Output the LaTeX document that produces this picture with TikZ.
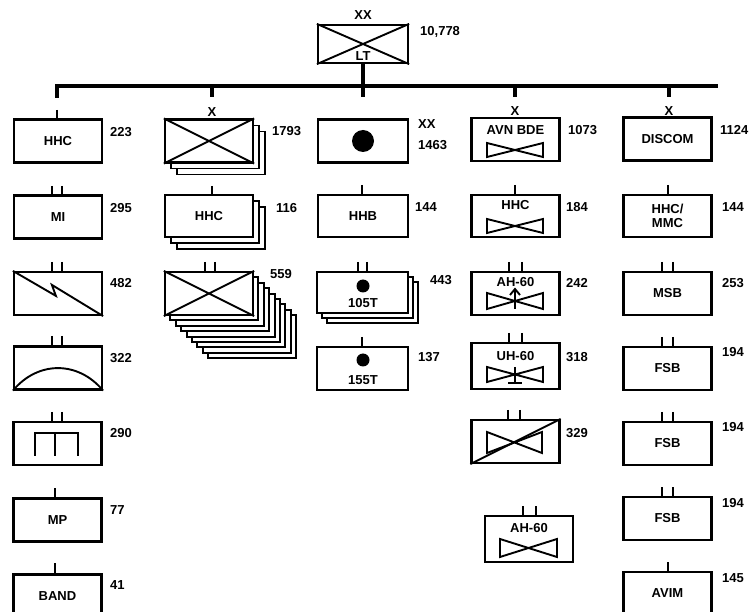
\documentclass[tikz,border=0pt]{standalone}
\usepackage{fontspec}
\newfontfamily\unitfont{Liberation Sans}
\usetikzlibrary{positioning}

\begin{document}
\begin{tikzpicture}[x=1pt,y=-1pt,
  unit/.style={draw,line width=2.2pt,fill=white,minimum width=88pt,minimum height=43pt,inner sep=0pt,font=\unitfont\bfseries\fontsize{13}{14}\selectfont},
  lbl/.style={inner sep=0pt,font=\unitfont\bfseries\fontsize{13}{14}\selectfont},
  strength/.style={lbl,anchor=west},
  sym/.style={line width=1.9pt},
  stack/.style={draw,line width=1.9pt,fill=white},
  tick/.style={line width=2.6pt},
  bar/.style={line width=3.2pt}]
\useasboundingbox (0,0) rectangle (753,612);
% Division
\node[unit,minimum width=90pt,minimum height=38pt] (div) at (363,44) {};
\draw[sym] (div.north west) -- (div.south east) (div.north east) -- (div.south west);
\node[lbl] (divlt) at (363,56) {LT};
\node[lbl] (divxx) at (363,15) {XX};
\node[strength] (divn) at (420,32) {10,778};
% Bar
\coordinate (b1) at (57,86);
\coordinate (b2) at (212,86);
\coordinate (b3) at (363,86);
\coordinate (b4) at (515,86);
\coordinate (b5) at (669,86);
\coordinate (bend) at (718,86);
\draw[bar] (div.south) -- (b3);
\draw[bar] ([yshift=-12pt]b1) -- (b1) -- (bend);
\foreach \b in {b2,b3,b4,b5} \draw[bar] (\b) -- ++(0,11);

% Column 1: separate companies and battalions
\node[unit] (hhc) at (58,141) {HHC};
\node[strength] (hhcn) at (110,132) {223};
\draw[tick] (57,110) -- (57,120);
\node[unit] (mi) at (58,217) {MI};
\node[strength] (min) at (110,208) {295};
\draw[tick] (52,186) -- (52,196) (62,186) -- (62,196);
\node[unit] (sig) at (58,293.5) {};
\draw[sym] (sig.north west) -- ([shift={(43,25)}]sig.north west) -- ([shift={(39,14)}]sig.north west) -- (sig.south east);
\node[strength] (sign) at (110,283) {482};
\draw[tick] (52,262) -- (52,272) (62,262) -- (62,272);
\node[unit] (ada) at (58,368) {};
\draw[sym] (ada.south west) .. controls ([shift={(25,-30)}]ada.south west) and ([shift={(-25,-30)}]ada.south east) .. (ada.south east);
\node[strength] (adan) at (110,358) {322};
\draw[tick] (52,336) -- (52,346) (62,336) -- (62,346);
\node[unit] (engr) at (57.5,443.5) {};
\draw[sym] (35,456) -- (35,433) -- (78,433) -- (78,456) (55,433) -- (55,456);
\node[strength] (engrn) at (110,433) {290};
\draw[tick] (52,412) -- (52,422) (62,412) -- (62,422);
\node[unit] (mp) at (57.5,520) {MP};
\node[strength] (mpn) at (110,510) {77};
\draw[tick] (55,488) -- (55,498);
\node[unit] (band) at (57.5,596) {BAND};
\node[strength] (bandn) at (110,585) {41};
\draw[tick] (55,563) -- (55,574);

% Column 2: infantry brigades
\foreach \k in {2,1} \draw[stack] (165+\k*6,119.5+\k*6) rectangle ++(88,43);
\node[unit] (inf) at (209,141) {};
\draw[sym] (inf.north west) -- (inf.south east) (inf.north east) -- (inf.south west);
\node[lbl] (infx) at (212,112) {X};
\node[strength] (infn) at (272,131) {1793};
\foreach \k in {2,1} \draw[stack] (165+\k*6,195+\k*6) rectangle ++(88,42);
\node[unit,minimum height=42pt] (bhhc) at (209,216) {HHC};
\node[strength] (bhhcn) at (276,208) {116};
\draw[tick] (212,186) -- (212,196);
\foreach \k in {8,...,1} \draw[stack] (165+\k*5.4,272+\k*5.4) rectangle ++(88,43);
\node[unit] (bn) at (209,293.5) {};
\draw[sym] (bn.north west) -- (bn.south east) (bn.north east) -- (bn.south west);
\node[strength] (bnn) at (270,274) {559};
\draw[tick] (205,262) -- (205,272) (215,262) -- (215,272);

% Column 3: division artillery
\node[unit,minimum width=90pt] (arty) at (363,141) {};
\fill (arty.center) circle (11);
\node[strength] (artyxx) at (418,124) {XX};
\node[strength] (artyn) at (418,145) {1463};
\node[unit,minimum width=90pt,minimum height=42pt] (hhb) at (363,216) {HHB};
\node[strength] (hhbn) at (415,207) {144};
\draw[tick] (362,185) -- (362,195);
\foreach \k in {2,1} \draw[stack] (317+\k*5,272+\k*5) rectangle ++(91,41);
\node[unit,minimum width=91pt,minimum height=41pt] (fa) at (362.5,292.5) {};
\fill (363,286) circle (6.5);
\node[lbl] (fat) at (363,303) {105T};
\node[strength] (fan) at (430,280) {443};
\draw[tick] (358,262) -- (358,272) (367,262) -- (367,272);
\node[unit,minimum width=91pt] (gs) at (362.5,368.5) {};
\fill (363,360) circle (6.5);
\node[lbl] (gst) at (363,380) {155T};
\node[strength] (gsn) at (418,357) {137};
\draw[tick] (362,337) -- (362,347);

% Column 4: aviation brigade
\node[unit] (avn) at (515.5,139.5) {};
\node[lbl] (avnt) at (515.5,130) {AVN BDE};
\draw[sym] (487,143) -- (543,157) -- (543,143) -- (487,157) -- cycle;
\node[lbl] (avnx) at (515,111) {X};
\node[strength] (avnn) at (568,130) {1073};
\node[unit,minimum height=42pt] (ahhc) at (515.5,216) {};
\node[lbl] (ahhct) at (515.5,205) {HHC};
\draw[sym] (487,219) -- (543,233) -- (543,219) -- (487,233) -- cycle;
\node[strength] (ahhcn) at (566,207) {184};
\draw[tick] (515,185) -- (515,195);
\node[unit] (atk) at (515.5,293.5) {};
\node[lbl] (atkt) at (515.5,282) {AH-60};
\draw[sym] (487,293) -- (543,309) -- (543,293) -- (487,309) -- cycle;
\draw[sym] (515,309) -- (515,289) (510,295) -- (515,289) -- (520,295);
\node[strength] (atkn) at (566,283) {242};
\draw[tick] (509,262) -- (509,272) (522,262) -- (522,272);
\node[unit,minimum height=46pt] (lift) at (515.5,366) {};
\node[lbl] (liftt) at (515.5,356) {UH-60};
\draw[sym] (487,367) -- (543,382) -- (543,367) -- (487,382) -- cycle;
\draw[sym] (515,367) -- (515,383) (508,383) -- (522,383);
\node[strength] (liftn) at (566,357) {318};
\draw[tick] (509,333) -- (509,343) (522,333) -- (522,343);
\node[unit] (cav) at (515.5,441.5) {};
\draw[sym] (487,432) -- (542,453) -- (542,432) -- (487,453) -- cycle;
\draw[sym] (cav.south west) -- (cav.north east);
\node[strength] (cavn) at (566,433) {329};
\draw[tick] (508,410) -- (508,420) (520,410) -- (520,420);
\node[unit,minimum height=46pt] (atk2) at (529,539) {};
\node[lbl] (atk2t) at (529,528) {AH-60};
\draw[sym] (500,539) -- (557,557) -- (557,539) -- (500,557) -- cycle;
\draw[tick] (523,506) -- (523,516) (536,506) -- (536,516);

% Column 5: support command
\node[unit] (discom) at (667.5,139) {DISCOM};
\node[lbl] (discomx) at (669,111) {X};
\node[strength] (discomn) at (720,130) {1124};
\node[unit,minimum height=42pt,align=center] (hmc) at (667.5,216) {HHC/\\MMC};
\node[strength] (hmcn) at (722,207) {144};
\draw[tick] (668,185) -- (668,195);
\node[unit] (msb) at (667.5,293.5) {MSB};
\node[strength] (msbn) at (722,283) {253};
\draw[tick] (662,262) -- (662,272) (673,262) -- (673,272);
\node[unit] (fsba) at (667.5,368.5) {FSB};
\node[strength] (fsban) at (722,352) {194};
\draw[tick] (662,337) -- (662,347) (673,337) -- (673,347);
\node[unit] (fsbb) at (667.5,443.5) {FSB};
\node[strength] (fsbbn) at (722,427) {194};
\draw[tick] (662,412) -- (662,422) (673,412) -- (673,422);
\node[unit] (fsbc) at (667.5,518.5) {FSB};
\node[strength] (fsbcn) at (722,503) {194};
\draw[tick] (662,487) -- (662,497) (673,487) -- (673,497);
\node[unit] (avim) at (667.5,593.5) {AVIM};
\node[strength] (avimn) at (722,578) {145};
\draw[tick] (668,562) -- (668,572);
\end{tikzpicture}
\end{document}
